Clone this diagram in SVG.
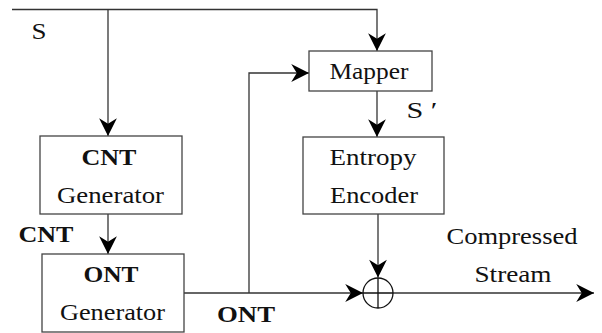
<svg xmlns="http://www.w3.org/2000/svg" width="602" height="333" viewBox="0 0 602 333">
  <style>
    .box { fill: #ffffff; stroke: #444444; stroke-width: 1.3; }
    .wire { fill: none; stroke: #333333; stroke-width: 1.3; }
    text { font-family: "Liberation Serif", serif; font-size: 24px; fill: #111111; }
    .b { font-weight: bold; }
    .m { text-anchor: middle; }
  </style>
  <defs>
    <marker id="arrow" markerUnits="userSpaceOnUse" markerWidth="20" markerHeight="20" viewBox="-17 -9 18 18" refX="0" refY="0" orient="auto">
      <path d="M0,0 L-16,-8 L-11,0 L-16,8 Z" fill="#000000"/>
    </marker>
  </defs>

  <!-- connectors -->
  <g id="connectors">
    <path class="wire" d="M12,9.5 H377 V51" marker-end="url(#arrow)" stroke="#111111"/>
    <path class="wire" d="M108,9.5 V136" marker-end="url(#arrow)"/>
    <path class="wire" d="M108,214 V254" marker-end="url(#arrow)"/>
    <path class="wire" d="M184,293 H363" marker-end="url(#arrow)"/>
    <path class="wire" d="M249,293 V73 H309" marker-end="url(#arrow)"/>
    <path class="wire" d="M377,91 V137" marker-end="url(#arrow)"/>
    <path class="wire" d="M378,214 V277.5" marker-end="url(#arrow)"/>
    <path class="wire" d="M393,293 H594" marker-end="url(#arrow)"/>
  </g>

  <!-- signal labels -->
  <g id="labels">
    <text x="31.5" y="39" textLength="15" lengthAdjust="spacingAndGlyphs">S</text>
    <text x="406.5" y="118" textLength="31" lengthAdjust="spacingAndGlyphs">S ′</text>
    <text class="b" x="18.5" y="242" textLength="55" lengthAdjust="spacingAndGlyphs">CNT</text>
    <text class="b" x="217" y="321.5" textLength="58" lengthAdjust="spacingAndGlyphs">ONT</text>
    <text class="m" x="512" y="244" textLength="131" lengthAdjust="spacingAndGlyphs">Compressed</text>
    <text class="m" x="513" y="281.5" textLength="77" lengthAdjust="spacingAndGlyphs">Stream</text>
  </g>

  <g id="cnt-generator">
    <rect class="box" x="40" y="136" width="142" height="78"/>
    <text class="b m" x="109" y="165" textLength="55" lengthAdjust="spacingAndGlyphs">CNT</text>
    <text class="m" x="110.5" y="203" textLength="107" lengthAdjust="spacingAndGlyphs">Generator</text>
  </g>

  <g id="ont-generator">
    <rect class="box" x="42" y="254" width="142" height="78"/>
    <text class="b m" x="111" y="282" textLength="55" lengthAdjust="spacingAndGlyphs">ONT</text>
    <text class="m" x="112.5" y="320" textLength="105" lengthAdjust="spacingAndGlyphs">Generator</text>
  </g>

  <g id="mapper">
    <rect class="box" x="309" y="51" width="123" height="40"/>
    <text class="m" x="369" y="79" textLength="79" lengthAdjust="spacingAndGlyphs">Mapper</text>
  </g>

  <g id="entropy-encoder">
    <rect class="box" x="303" y="137" width="141" height="77"/>
    <text class="m" x="373" y="165" textLength="87" lengthAdjust="spacingAndGlyphs">Entropy</text>
    <text class="m" x="374" y="203" textLength="88" lengthAdjust="spacingAndGlyphs">Encoder</text>
  </g>

  <g id="adder">
    <circle cx="378" cy="293" r="15" fill="#ffffff" stroke="#111111" stroke-width="1.3"/>
    <path d="M363,293 H393 M378,278 V308" stroke="#111111" stroke-width="1.3" fill="none"/>
  </g>
</svg>
